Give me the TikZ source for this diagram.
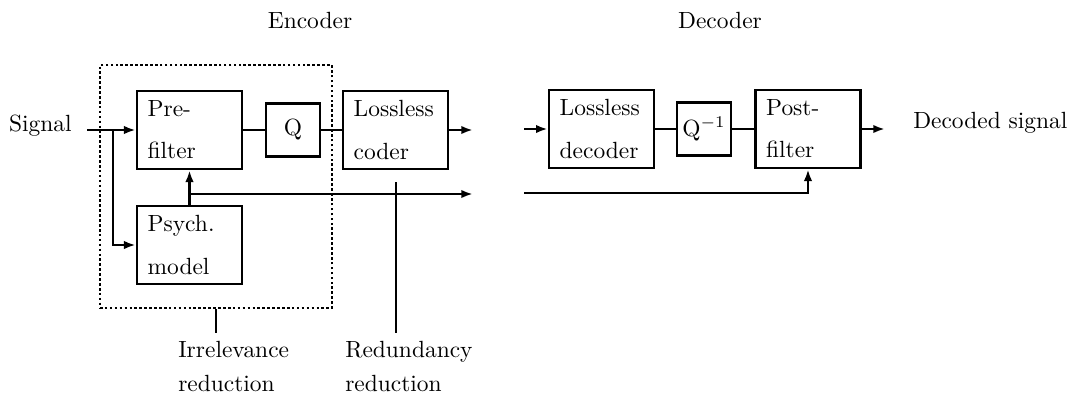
\documentclass[tikz,border=0pt]{standalone}
\usepackage{amsmath}
\usepackage{tikz}
\usetikzlibrary{arrows.meta}

\begin{document}
\begin{tikzpicture}[x=0.015cm,y=-0.015cm,>={Latex[length=5pt,width=3.6pt]},
  block/.style={draw,line width=1.1pt,align=left,minimum height=1.17cm,
    text width=1.255cm,inner xsep=0.16cm,inner ysep=2pt},
  qbox/.style={draw,line width=1.1pt,minimum width=0.81cm,minimum height=0.8cm,inner sep=1pt},
  wire/.style={line width=1.1pt}]
\useasboundingbox (0,0) rectangle (1068,403);

% titles
\node (enctitle) at (310,20) {Encoder};
\node (dectitle) at (720,20) {Decoder};

% encoder
\node[draw,line width=1.1pt,densely dotted,minimum width=3.48cm,minimum height=3.645cm] (enc) at (216,186.5) {};
\node[block] (pre) at (189.5,130) {Pre-\\[6pt]filter};
\node[qbox] (q) at (293,130) {Q};
\node[block] (coder) at (395.5,130) {Lossless\\[6pt]coder};
\node[block] (psych) at (189.5,245) {Psych.\\[6pt]model};

\node[anchor=east] (sig) at (80,126) {Signal};
\coordinate (sin) at (87,130);
\coordinate (br) at (113,130);
\coordinate (encout1) at (473,130);
\coordinate (encout2) at (473,194);
\coordinate (rtop) at (396,182);

\draw[wire,->] (sin) -- (pre.west);
\draw[wire,->] (br) |- (psych.west);
\draw[wire] (pre.east) -- (q.west);
\draw[wire] (q.east) -- (coder.west);
\draw[wire,->] (coder.east) -- (encout1);
\draw[wire,->] (psych.north) -- (pre.south);
\draw[wire,->] (psych.north |- encout2) -- (encout2);

% labels below
\node[anchor=north west,align=left] (irr) at (170,333) {Irrelevance\\[2.5pt]reduction};
\node[anchor=north west,align=left] (red) at (337,333) {Redundancy\\[2.5pt]reduction};
\draw[wire] (enc.south) -- (enc.south |- irr.north);
\draw[wire] (rtop) -- (rtop |- red.north);

% decoder
\node[block] (dec) at (601.5,129) {Lossless\\[6pt]decoder};
\node[qbox] (qinv) at (704,129) {Q$^{-1}$};
\node[block] (post) at (808,129) {Post-\\[6pt]filter};
\node[anchor=west] (decsig) at (905,123) {Decoded signal};

\coordinate (decin1) at (524,129);
\coordinate (decin2) at (524,193);
\coordinate (decout) at (885,129);

\draw[wire,->] (decin1) -- (dec.west);
\draw[wire] (dec.east) -- (qinv.west);
\draw[wire] (qinv.east) -- (post.west);
\draw[wire,->] (post.east) -- (decout);
\draw[wire,->] (decin2) -| (post.south);

\end{tikzpicture}
\end{document}
